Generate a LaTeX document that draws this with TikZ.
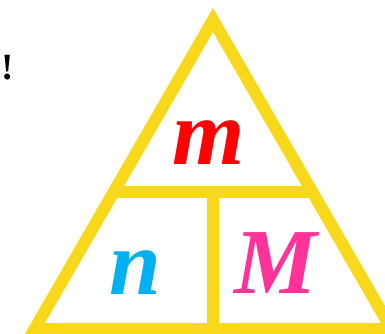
\documentclass[tikz,border=0pt]{standalone}
\usepackage{fontspec}
\setmainfont{Liberation Serif}
\usepackage{xcolor}
\definecolor{triyellow}{RGB}{248, 216, 26}
\definecolor{massred}{RGB}{255, 0, 0}
\definecolor{molblue}{RGB}{0, 176, 240}
\definecolor{molarpink}{RGB}{255, 51, 153}
\usetikzlibrary{calc}
\tikzstyle{bar} = [draw=triyellow, line width=12pt, line join=miter]
\tikzstyle{qty} = [anchor=base, inner sep=0pt, font=\fontsize{93}{93}\selectfont\bfseries\itshape]

\begin{document}
\begin{tikzpicture}[x=1pt, y=-1pt]
                    \useasboundingbox (0, 0) rectangle (385, 334);
                    \clip (0, 0) rectangle (385, 334);
                    \coordinate (apex) at (213, 20);
                    \coordinate (bl) at (34.6, 329);
                    \coordinate (br) at (391.4, 329);
                    \coordinate (hl) at (113.7, 192);
                    \coordinate (hr) at (312.3, 192);
                    \coordinate (vt) at (213, 192);
                    \coordinate (vb) at (213, 329);
                    \draw[bar] (apex) -- (bl) -- (br) -- cycle;
                    \draw[bar] (hl) -- (hr);
                    \draw[bar] (vt) -- (vb);
                    \node[qty, massred] (m) at (209, 164) {m};
                    \node[qty, molblue] (n) at (135, 294) {n};
                    \node[qty, molarpink] (M) at (276, 293) {M};
                    \node[anchor=base, inner sep=0pt, font=\fontsize{37}{37}\selectfont\bfseries] (bang) at (8, 80) {!};
                \end{tikzpicture}
\end{document}
